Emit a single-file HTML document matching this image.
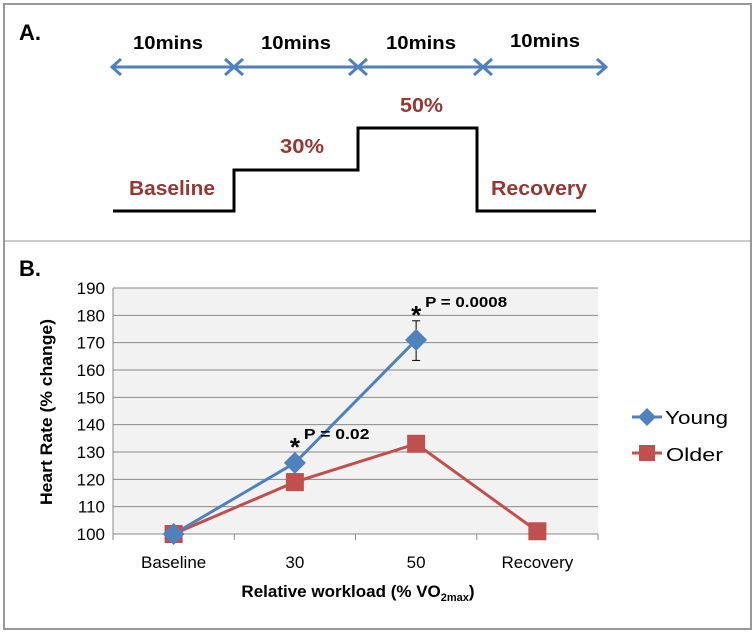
<!DOCTYPE html>
<html><head><meta charset="utf-8"><style>
body{margin:0;background:#fff;width:756px;height:632px;overflow:hidden;font-family:"Liberation Sans",sans-serif}
svg text{font-family:"Liberation Sans",sans-serif}
</style></head><body>
<svg id="fig" width="756" height="632" xmlns="http://www.w3.org/2000/svg">
  <rect x="4" y="4" width="747" height="237" fill="#fff" stroke="#999" stroke-width="2"/>
  <rect x="4" y="241" width="747" height="388" fill="#fff" stroke="#999" stroke-width="2"/>
  <line x1="5" y1="241" x2="750" y2="241" stroke="#ccc" stroke-width="2"/>
  <text x="19" y="40" font-size="22" font-weight="bold">A.</text>
  <g stroke="#4f81bd" stroke-width="3" fill="none">
    <line x1="112" y1="67" x2="606" y2="67"/>
    <polyline points="121,59 112,67 121,75"/>
    <polyline points="597,59 606,67 597,75"/>
    <polyline points="225,59 234,67 225,75"/><polyline points="243,59 234,67 243,75"/>
    <polyline points="349,59 358,67 349,75"/><polyline points="367,59 358,67 367,75"/>
    <polyline points="474,59 483,67 474,75"/><polyline points="492,59 483,67 492,75"/>
  </g>
  <g font-size="18" font-weight="bold" text-anchor="middle">
    <text x="168" y="49" textLength="70" lengthAdjust="spacingAndGlyphs">10mins</text>
    <text x="296" y="49" textLength="70" lengthAdjust="spacingAndGlyphs">10mins</text>
    <text x="421" y="49" textLength="70" lengthAdjust="spacingAndGlyphs">10mins</text>
    <text x="545" y="47" textLength="70" lengthAdjust="spacingAndGlyphs">10mins</text>
  </g>
  <polyline points="113,211 234,211 234,170 358,170 358,128 477,128 477,211 596,211" fill="none" stroke="#000" stroke-width="3"/>
  <g font-size="20" font-weight="bold" fill="#953735">
    <text x="129" y="195" textLength="86" lengthAdjust="spacingAndGlyphs">Baseline</text>
    <text x="280" y="153" textLength="44" lengthAdjust="spacingAndGlyphs">30%</text>
    <text x="400" y="112" textLength="43" lengthAdjust="spacingAndGlyphs">50%</text>
    <text x="491" y="195" textLength="96" lengthAdjust="spacingAndGlyphs">Recovery</text>
  </g>
  <text x="19" y="276" font-size="22" font-weight="bold">B.</text>
  <rect x="113" y="288" width="485" height="246" fill="#f2f2f2"/>
  <g id="grid"></g><g id="axes"></g><g id="series"></g>
  <text transform="translate(52,412) rotate(-90)" font-size="17" font-weight="bold" text-anchor="middle" textLength="186" lengthAdjust="spacingAndGlyphs">Heart Rate (% change)</text>
  <text x="358" y="597" font-size="17" font-weight="bold" text-anchor="middle">Relative workload (% VO<tspan font-size="11" dy="4">2max</tspan><tspan dy="-4">)</tspan></text>
  <g>
    <g>
      <line x1="632" y1="417" x2="662" y2="417" stroke="#4f81bd" stroke-width="3"/>
      <polygon points="647,408 656,417 647,426 638,417" fill="#4f81bd"/>
      <text x="665" y="424" font-size="18" textLength="63" lengthAdjust="spacingAndGlyphs">Young</text>
    </g>
    <g>
      <line x1="632" y1="453" x2="662" y2="453" stroke="#c0504d" stroke-width="3"/>
      <rect x="639" y="445" width="16" height="16" fill="#c0504d"/>
      <text x="666" y="461" font-size="18" textLength="57" lengthAdjust="spacingAndGlyphs">Older</text>
    </g>
  </g>
</svg>
<script>
const categories=["Baseline","30","50","Recovery"];
const young=[100,126,171];
const older=[100,119,133,101];
const youngErrLow=[null,null,163.5];
const youngErrHigh=[null,null,178];
const yTicks=[100,110,120,130,140,150,160,170,180,190];
const annotations=[{i:1,label:"P = 0.02"},{i:2,label:"P = 0.0008"}];
const NS="http://www.w3.org/2000/svg";
const X0=113,X1=598,Y0=534,Y1=288,YMIN=100,YMAX=190;
const bw=(X1-X0)/categories.length;
function xs(i){return X0+bw*(i+0.5);}
function ys(v){return Y0-(v-YMIN)/(YMAX-YMIN)*(Y0-Y1);}
function mk(tag,attrs,parent){const e=document.createElementNS(NS,tag);for(const k in attrs)e.setAttribute(k,attrs[k]);parent.appendChild(e);return e;}
const grid=document.getElementById('grid'),axes=document.getElementById('axes'),ser=document.getElementById('series');
yTicks.forEach(t=>{
  const l=mk('line',{x1:X0,x2:X1,y1:ys(t),y2:ys(t),stroke:'#888','stroke-width':1},grid);
  
  
  const tx=mk('text',{x:X0-8,y:ys(t)+6,'font-size':17,'text-anchor':'end'},axes);
  tx.textContent=t;
  
  
});
mk('line',{x1:X0,x2:X0,y1:Y1,y2:Y0,stroke:'#888'},axes);
mk('line',{x1:X0,x2:X1,y1:Y0,y2:Y0,stroke:'#888'},axes);
for(let i=0;i<=categories.length;i++) mk('line',{x1:X0+bw*i,x2:X0+bw*i,y1:Y0,y2:Y0+6,stroke:'#888'},axes);
categories.forEach((c,i)=>{
  const tx=mk('text',{x:xs(i),y:Y0+34,'font-size':17,'text-anchor':'middle'},axes);
  tx.textContent=c;
  
  
});
function line(vals,color,name){
  const pl=mk('polyline',{points:vals.map((v,i)=>xs(i)+','+ys(v)).join(' '),fill:'none',stroke:color,'stroke-width':3},ser);
  
  
}
line(older,'#c0504d','older-line');
line(young,'#4f81bd','young-line');
youngErrLow.forEach((lo,i)=>{
  if(lo==null)return;const hi=youngErrHigh[i];const x=xs(i);
  const g=mk('g',{stroke:'#000','stroke-width':1},ser);
  
  
  mk('line',{x1:x,x2:x,y1:ys(hi),y2:ys(lo)},g);
  mk('line',{x1:x-4,x2:x+4,y1:ys(hi),y2:ys(hi)},g);
  mk('line',{x1:x-4,x2:x+4,y1:ys(lo),y2:ys(lo)},g);
});
older.forEach((v,i)=>{
  const r=mk('rect',{x:xs(i)-9,y:ys(v)-9,width:18,height:18,fill:'#c0504d'},ser);
  
  
});
young.forEach((v,i)=>{
  const x=xs(i),y=ys(v);
  const p=mk('polygon',{points:`${x},${y-11} ${x+11},${y} ${x},${y+11} ${x-11},${y}`,fill:'#4f81bd'},ser);
  
  
});
annotations.forEach(a=>{
  const x=xs(a.i),y=ys(young[a.i]);
  const top=youngErrHigh[a.i]!=null?ys(youngErrHigh[a.i]):y-10;
  const s=mk('text',{x:x,y:top+3,'font-size':26,'font-weight':'bold','text-anchor':'middle'},ser);
  s.textContent='*';
  
  
  const t=mk('text',{x:x+9,y:top-14,'font-size':15,'font-weight':'bold','textLength':a.label.length*8.2,'lengthAdjust':'spacingAndGlyphs'},ser);
  t.textContent=a.label;
  
  
});
</script>
</body></html>
